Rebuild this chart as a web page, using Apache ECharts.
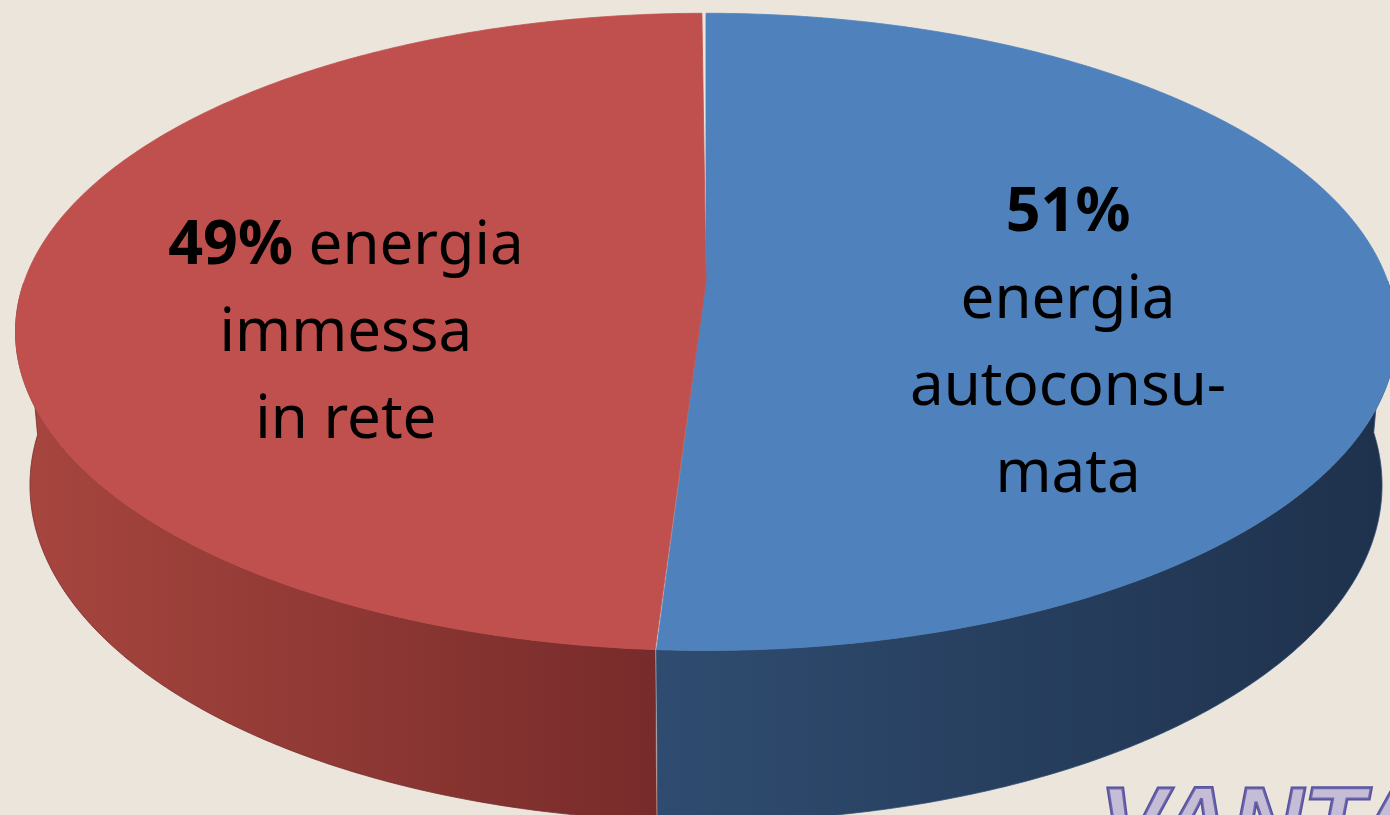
<!DOCTYPE html>
<html>
<head>
<meta charset="utf-8">
<script src="https://cdn.jsdelivr.net/npm/echarts@6/dist/echarts.min.js"></script>
<style>
  html, body { margin: 0; padding: 0; background: #ebe5dc; }
  #chart { width: 1390px; height: 815px; }
</style>
</head>
<body>
<div id="chart"></div>
<script>
// slices, clockwise from 12 o'clock (as the spreadsheet draws them)
const names = ['energia\nautoconsu-\nmata', 'energia\nimmessa\nin rete']
const values = [51, 49]
const percentLabels = ['51%', '49%']
const labelSep = ['\n', ' ']
const watermark = 'VANTAGGI'

const topColors = ['#4f81bd', '#c0504d']
const sideColors = [['#2f4c70', '#1e314c'], ['#a8463f', '#772b2a']]

// fake 3d projection of the tilted disk
const CX = 706, CY = 281
const S = 0.4555, C = 0.8902, D = 5.575, F = 3800, H = 0.255

function proj(theta, y, r) {
  const a = theta * Math.PI / 180
  const x = r * Math.sin(a)
  const z = -r * Math.cos(a)
  const u = y * C - z * S
  const depth = D - (y * S + z * C)
  return [CX + F * x / depth, CY - F * u / depth]
}

const total = values.reduce((s, v) => s + v, 0)
const starts = []
let acc = 0
values.forEach((v) => {
  starts.push(acc / total * 360)
  acc += v
})

const chart = echarts.init(document.getElementById('chart'))

function renderItem(params, api) {
  const i = params.dataIndex
  const a0 = starts[i]
  const a1 = a0 + api.value(0) / total * 360
  const children = []

  // outer wall, only the front part (90..270 deg)
  const w0 = Math.max(a0, 90)
  const w1 = Math.min(a1, 270)
  if (w1 > w0) {
    const topEdge = []
    const botEdge = []
    for (let t = w0; t <= w1 + 0.001; t += 0.5) {
      const tt = Math.min(t, w1)
      topEdge.push(proj(tt, 0, 1))
      botEdge.push(proj(tt, -H, 1))
    }
    const grad = {
      type: 'linear', x: 0, y: 0, x2: 1, y2: 0,
      colorStops: [
        { offset: 0, color: sideColors[i][0] },
        { offset: 1, color: sideColors[i][1] }
      ]
    }
    children.push({
      type: 'polygon',
      z2: 1,
      shape: { points: topEdge.concat(botEdge.reverse()) },
      style: { fill: grad, stroke: sideColors[i][i === 0 ? 0 : 1], lineWidth: 0.8 }
    })
  }

  // top face
  const pts = [proj(0, 0, 0)]
  for (let t = a0; t <= a1 + 0.001; t += 0.5) {
    pts.push(proj(Math.min(t, a1), 0, 1))
  }
  children.push({
    type: 'polygon',
    z2: 10,
    shape: { points: pts },
    style: { fill: topColors[i], stroke: topColors[i], lineWidth: 0.8 }
  })

  // label
  const mid = (a0 + a1) / 2
  const p = proj(mid, 0, 0.53)
  children.push({
    type: 'text',
    z2: 20,
    x: p[0],
    y: p[1] + 58,
    style: {
      text: '{b|' + percentLabels[i] + '}' + labelSep[i] + names[i],
      align: 'center',
      verticalAlign: 'middle',
      fontFamily: 'Noto Sans',
      fontSize: 60,
      lineHeight: 87,
      fill: '#000',
      rich: {
        b: { fontFamily: 'Noto Sans', fontWeight: 'bold', fontSize: 61, lineHeight: 87, fill: '#000' }
      }
    }
  })

  return { type: 'group', children: children }
}

const option = {
  backgroundColor: '#ebe5dc',
  animation: false,
  graphic: [
    {
      type: 'text',
      left: 1098,
      top: 778,
      style: {
        text: watermark,
        fontFamily: 'Liberation Sans',
        fontWeight: 'bold',
        fontStyle: 'italic',
        fontSize: 100,
        fill: 'rgba(140,130,205,0.4)',
        stroke: '#58539c',
        lineWidth: 3
      }
    }
  ],
  series: [
    {
      type: 'custom',
      coordinateSystem: 'none',
      renderItem: renderItem,
      data: values.map((v) => [v])
    }
  ]
}

option && chart.setOption(option)
</script>
</body>
</html>
